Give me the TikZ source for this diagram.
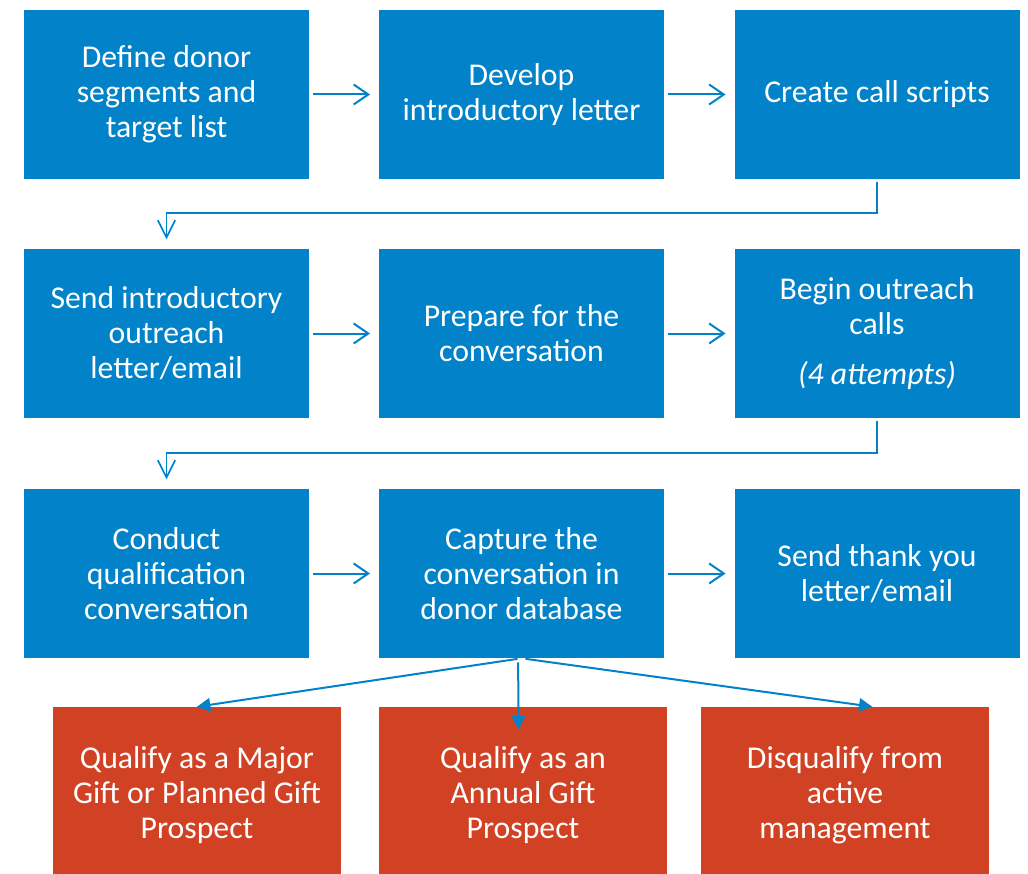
\documentclass[tikz,border=0pt]{standalone}
\usepackage{fontspec}
\setmainfont{Carlito}
\usepackage{tikz}
\usetikzlibrary{arrows.meta}
\definecolor{boxblue}{RGB}{2,131,201}
\definecolor{boxred}{RGB}{209,66,36}
\tikzset{
    bluebox/.style={fill=boxblue, text=white, minimum width=213.75pt, minimum height=126.75pt,
        inner sep=0pt, align=center, font=\fontsize{23.8}{26.25}\selectfont},
    redbox/.style={fill=boxred, text=white, minimum width=216pt, minimum height=132pt,
        inner sep=0pt, align=center, font=\fontsize{23.8}{26.25}\selectfont},
    flow/.style={draw=boxblue, line width=1.5pt, -{Straight Barb[length=11pt,width=15pt]},
        shorten <=3pt, shorten >=6.5pt},
    turn/.style={draw=boxblue, line width=1.3pt, -{Straight Barb[length=13pt,width=13pt]},
        shorten <=2pt, shorten >=7pt},
    fan/.style={draw=boxblue, line width=1.5pt, -{Triangle[length=10pt,width=10pt]},
        shorten <=3pt},
}

\begin{document}
\begin{tikzpicture}[x=0.75pt, y=-0.75pt]
\useasboundingbox (0,0) rectangle (1028,874);
% first row
\node[bluebox] (seg) at (166.5,94.5) {Define donor\\segments and\\target list};
\node[bluebox] (let) at (521.5,94.5) {Develop\\introductory letter};
\node[bluebox] (scr) at (877,94.5) {Create call scripts};
% second row
\node[bluebox] (snd) at (166.5,333.5) {Send introductory\\outreach\\letter/email};
\node[bluebox] (prep) at (521.5,333.5) {Prepare for the\\conversation};
\node[bluebox] (call) at (877,333.5) {Begin outreach\\calls\\[11.25pt]\textit{(4 attempts)}};
% third row
\node[bluebox] (conv) at (166.5,573.5) {Conduct\\qualification\\conversation};
\node[bluebox] (cap) at (521.5,573.5) {Capture the\\conversation in\\donor database};
\node[bluebox] (thx) at (877,573.5) {Send thank you\\letter/email};
% outcomes
\node[redbox] (maj) at (197,795) {Qualify as a Major\\Gift or Planned Gift\\Prospect};
\node[redbox] (ann) at (523,795) {Qualify as an\\Annual Gift\\Prospect};
\node[redbox] (dis) at (845,795) {Disqualify from\\active\\management};

\draw[flow] (seg.east) -- (let.west);
\draw[flow] (let.east) -- (scr.west);
\draw[flow] (snd.east) -- (prep.west);
\draw[flow] (prep.east) -- (call.west);
\draw[flow] (conv.east) -- (cap.west);
\draw[flow] (cap.east) -- (thx.west);

\draw[turn] (scr.south) -- ++(0,34) -| (snd.north);
\draw[turn] (call.south) -- ++(0,35) -| (conv.north);

\draw[fan] (cap.south) -- (maj.north);
\draw[fan, shorten >=-17pt] ([xshift=-2.5pt]cap.south) -- ([xshift=-3.5pt]ann.north);
\draw[fan] (cap.south) -- ([xshift=20.5pt]dis.north);
\end{tikzpicture}
\end{document}
